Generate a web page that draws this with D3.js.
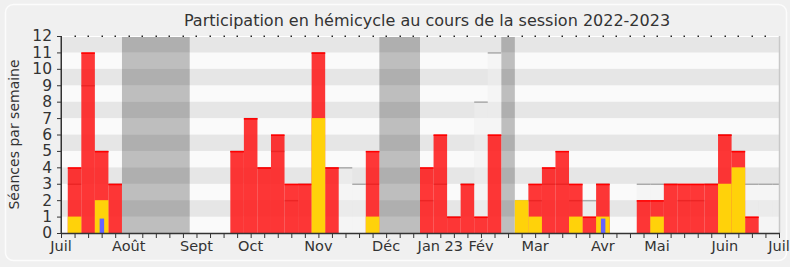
<!DOCTYPE html>
<html>
<head>
<meta charset="utf-8">
<script src="https://cdn.jsdelivr.net/npm/d3@7"></script>
<style>
  body { margin: 0; background: #f0f0f0; }
  text { font-family: "DejaVu Sans", sans-serif; fill: #333; }
</style>
</head>
<body>
<div id="chart-container"></div>
<script>
"use strict";

// one entry per week, week 0 = first week of July 2022
const weeks = d3.range(0, 54);
const presences = [0, 4, 11, 5, 3, 0, 0, 0, 0, 0, 0, 0, 0, 5, 7, 4, 6, 3, 3, 11, 4, 0, 0, 5, 0, 0, 0,
  4, 6, 1, 3, 1, 6, 0, 0, 3, 4, 5, 3, 1, 3, 0, 0, 2, 2, 3, 3, 3, 3, 6, 5, 1, 0, 0];
const participations = [0, 1, 0, 2, 0, 0, 0, 0, 0, 0, 0, 0, 0, 0, 0, 0, 0, 0, 0, 7, 0, 0, 0, 1, 0, 0, 0,
  0, 0, 0, 0, 0, 0, 0, 2, 1, 0, 0, 1, 0, 1, 0, 0, 0, 1, 0, 0, 0, 0, 3, 4, 0, 0, 0];
const questions = [0, 0, 0, 1, 0, 0, 0, 0, 0, 0, 0, 0, 0, 0, 0, 0, 0, 0, 0, 0, 0, 0, 0, 0, 0, 0, 0,
  0, 0, 0, 0, 0, 0, 0, 0, 0, 0, 0, 0, 0, 1, 0, 0, 0, 0, 0, 0, 0, 0, 0, 0, 0, 0, 0];
const seances = [0, 3, 9, 5, 3, 0, 0, 0, 0, 0, 0, 0, 0, 5, 7, 4, 5, 2, 3, 11, 4, 4, 3, 3, 0, 0, 0,
  2, 3, 1, 3, 8, 11, 0, 2, 2, 3, 3, 2, 2, 3, 0, 0, 3, 3, 3, 2, 2, 3, 6, 5, 3, 3, 3];

const vacationStart = [5, 24, 33];
const vacationEnd = [9, 26, 33];

const monthLabels = ["Juil", "Août", "Sept", "Oct", "Nov", "Déc", "Jan 23", "Fév", "Mar", "Avr", "Mai", "Juin", "Juil"];
const monthWeeks = [0, 5, 10, 14, 19, 24, 28, 31, 35, 40, 44, 49, 53];

const yTicks = d3.range(0, 13);

const svgWidth = 790;
const svgHeight = 267;
const plotLeft = 61;
const plotRight = 780;
const plotTop = 36;
const plotBottom = 233;

const svg = d3.select("#chart-container")
  .append("svg")
  .attr("width", svgWidth)
  .attr("height", svgHeight)
  .style("display", "block")
;

const xScale = d3.scaleLinear()
  .domain([0, 53])
  .range([plotLeft, 779])
;
const yScale = d3.scaleLinear()
  .domain([0, 12])
  .range([plotBottom, plotTop])
;
const step = xScale(1) - xScale(0);

// frame
svg.append("rect")
  .attr("x", 5.5).attr("y", 4.5)
  .attr("width", 781).attr("height", 256)
  .attr("rx", 8)
  .attr("fill", "#f0f0f0")
  .attr("stroke", "#fcfcfc")
  .attr("stroke-width", 1.5)
;

svg.append("defs").append("clipPath")
  .attr("id", "plot-clip")
  .append("rect")
  .attr("x", plotLeft).attr("y", plotTop)
  .attr("width", plotRight - plotLeft).attr("height", plotBottom - plotTop)
;

const plot = svg.append("g").attr("clip-path", "url(#plot-clip)");

// alternating bands
plot.selectAll("rect.band")
  .data(yTicks.slice(0, 12))
  .enter()
  .append("rect")
  .attr("class", "band")
  .attr("x", plotLeft)
  .attr("width", plotRight - plotLeft)
  .attr("y", d => yScale(d + 1))
  .attr("height", d => yScale(d) - yScale(d + 1))
  .attr("fill", d => d % 2 === 1 ? "#e6e6e6" : "#fafafa")
;

// holidays
plot.selectAll("rect.vacation")
  .data(vacationStart)
  .enter()
  .append("rect")
  .attr("class", "vacation")
  .attr("x", d => xScale(d - 0.5))
  .attr("width", (d, i) => xScale(vacationEnd[i] + 0.5) - xScale(d - 0.5))
  .attr("y", plotTop)
  .attr("height", plotBottom - plotTop)
  .attr("fill", "#c2c2c2")
  .style("mix-blend-mode", "multiply")
;

// total sittings of the week
plot.selectAll("rect.seance")
  .data(weeks.filter(w => seances[w] > 0))
  .enter()
  .append("rect")
  .attr("class", "seance")
  .attr("x", d => xScale(d - 0.5))
  .attr("width", step)
  .attr("y", d => yScale(seances[d]))
  .attr("height", d => plotBottom - yScale(seances[d]))
  .attr("fill", "#f0f0f0")
  .attr("fill-opacity", 0.5)
;
plot.selectAll("line.seance")
  .data(weeks.filter(w => seances[w] > 0))
  .enter()
  .append("line")
  .attr("class", "seance")
  .attr("x1", d => xScale(d - 0.5))
  .attr("x2", d => xScale(d + 0.5))
  .attr("y1", d => yScale(seances[d]) + 0.5)
  .attr("y2", d => yScale(seances[d]) + 0.5)
  .attr("stroke", "#aaaaaa")
  .attr("stroke-width", 1.5)
;

// presences
plot.selectAll("rect.presence")
  .data(weeks.filter(w => presences[w] > 0))
  .enter()
  .append("rect")
  .attr("class", "presence")
  .attr("x", d => xScale(d - 0.5))
  .attr("width", step)
  .attr("y", d => yScale(presences[d]))
  .attr("height", d => plotBottom - yScale(presences[d]))
  .attr("fill", "rgb(255,0,0)")
  .attr("fill-opacity", 0.78)
;
plot.selectAll("line.presence")
  .data(weeks.filter(w => presences[w] > 0))
  .enter()
  .append("line")
  .attr("class", "presence")
  .attr("x1", d => xScale(d - 0.5))
  .attr("x2", d => xScale(d + 0.5))
  .attr("y1", d => yScale(presences[d]) + 0.75)
  .attr("y2", d => yScale(presences[d]) + 0.75)
  .attr("stroke", "#ff0000")
  .attr("stroke-width", 1.5)
;

// participations
plot.selectAll("rect.participation")
  .data(weeks.filter(w => participations[w] > 0))
  .enter()
  .append("rect")
  .attr("class", "participation")
  .attr("x", d => xScale(d - 0.5))
  .attr("width", step)
  .attr("y", d => yScale(participations[d]))
  .attr("height", d => plotBottom - yScale(participations[d]))
  .attr("fill", "#ffd20a")
;

// oral questions
plot.selectAll("rect.question")
  .data(weeks.filter(w => questions[w] > 0))
  .enter()
  .append("rect")
  .attr("class", "question")
  .attr("x", d => xScale(d) - 2)
  .attr("width", 4.5)
  .attr("y", d => yScale(questions[d]) + 2)
  .attr("height", d => plotBottom - yScale(questions[d]) - 2)
  .attr("fill", "#6464ff")
;

// borders
svg.append("line")
  .attr("x1", plotLeft).attr("x2", plotRight)
  .attr("y1", plotTop + 0.5).attr("y2", plotTop + 0.5)
  .attr("stroke", "#ffffff")
;
svg.append("line")
  .attr("x1", plotRight - 0.5).attr("x2", plotRight - 0.5)
  .attr("y1", plotTop).attr("y2", plotBottom)
  .attr("stroke", "#c8c8c8")
  .attr("stroke-width", 1.5)
;

// top dots
svg.selectAll("rect.topdot")
  .data(weeks.slice(1, 53))
  .enter()
  .append("rect")
  .attr("class", "topdot")
  .attr("x", d => Math.round(xScale(d)) - 0.5)
  .attr("y", plotTop - 0.5)
  .attr("width", 1.5)
  .attr("height", 1.5)
  .attr("fill", "#222")
;

const xAxis = d3.axisBottom(xScale)
  .tickValues(weeks)
  .tickSize(5)
  .tickFormat("")
;
const gx = svg.append("g")
  .attr("transform", `translate(0, ${plotBottom})`)
  .call(xAxis)
;
gx.select(".domain").attr("stroke", "#333").attr("stroke-width", 1.5).attr("d", `M${plotLeft},0.5H${plotRight}`);
gx.selectAll(".tick line").attr("stroke", "#333");

svg.selectAll("text.month")
  .data(monthWeeks)
  .enter()
  .append("text")
  .attr("class", "month")
  .attr("x", d => xScale(d))
  .attr("y", 251)
  .attr("text-anchor", "middle")
  .style("font-size", "14.5px")
  .text((d, i) => monthLabels[i])
;

const yAxis = d3.axisLeft(yScale)
  .tickValues(yTicks)
  .tickSize(4)
  .tickPadding(5)
  .tickFormat(d3.format("d"))
;
const gy = svg.append("g")
  .attr("transform", `translate(${plotLeft}, 0)`)
  .call(yAxis)
;
gy.select(".domain").attr("stroke", "#333").attr("stroke-width", 1.5).attr("d", `M0.25,${plotTop}V${plotBottom}`);
gy.selectAll(".tick line").attr("stroke", "#333");
gy.selectAll(".tick text")
  .style("font-size", "15.5px")
  .style("font-family", "DejaVu Sans, sans-serif")
  .attr("fill", "#333")
;

svg.append("text")
  .attr("transform", `translate(19, ${(plotTop + plotBottom) / 2}) rotate(-90)`)
  .attr("text-anchor", "middle")
  .style("font-size", "14px")
  .text("Séances par semaine")
;

svg.append("text")
  .attr("x", 427)
  .attr("y", 26)
  .attr("text-anchor", "middle")
  .style("font-size", "16px")
  .text("Participation en hémicycle au cours de la session 2022-2023")
;
</script>
</body>
</html>
